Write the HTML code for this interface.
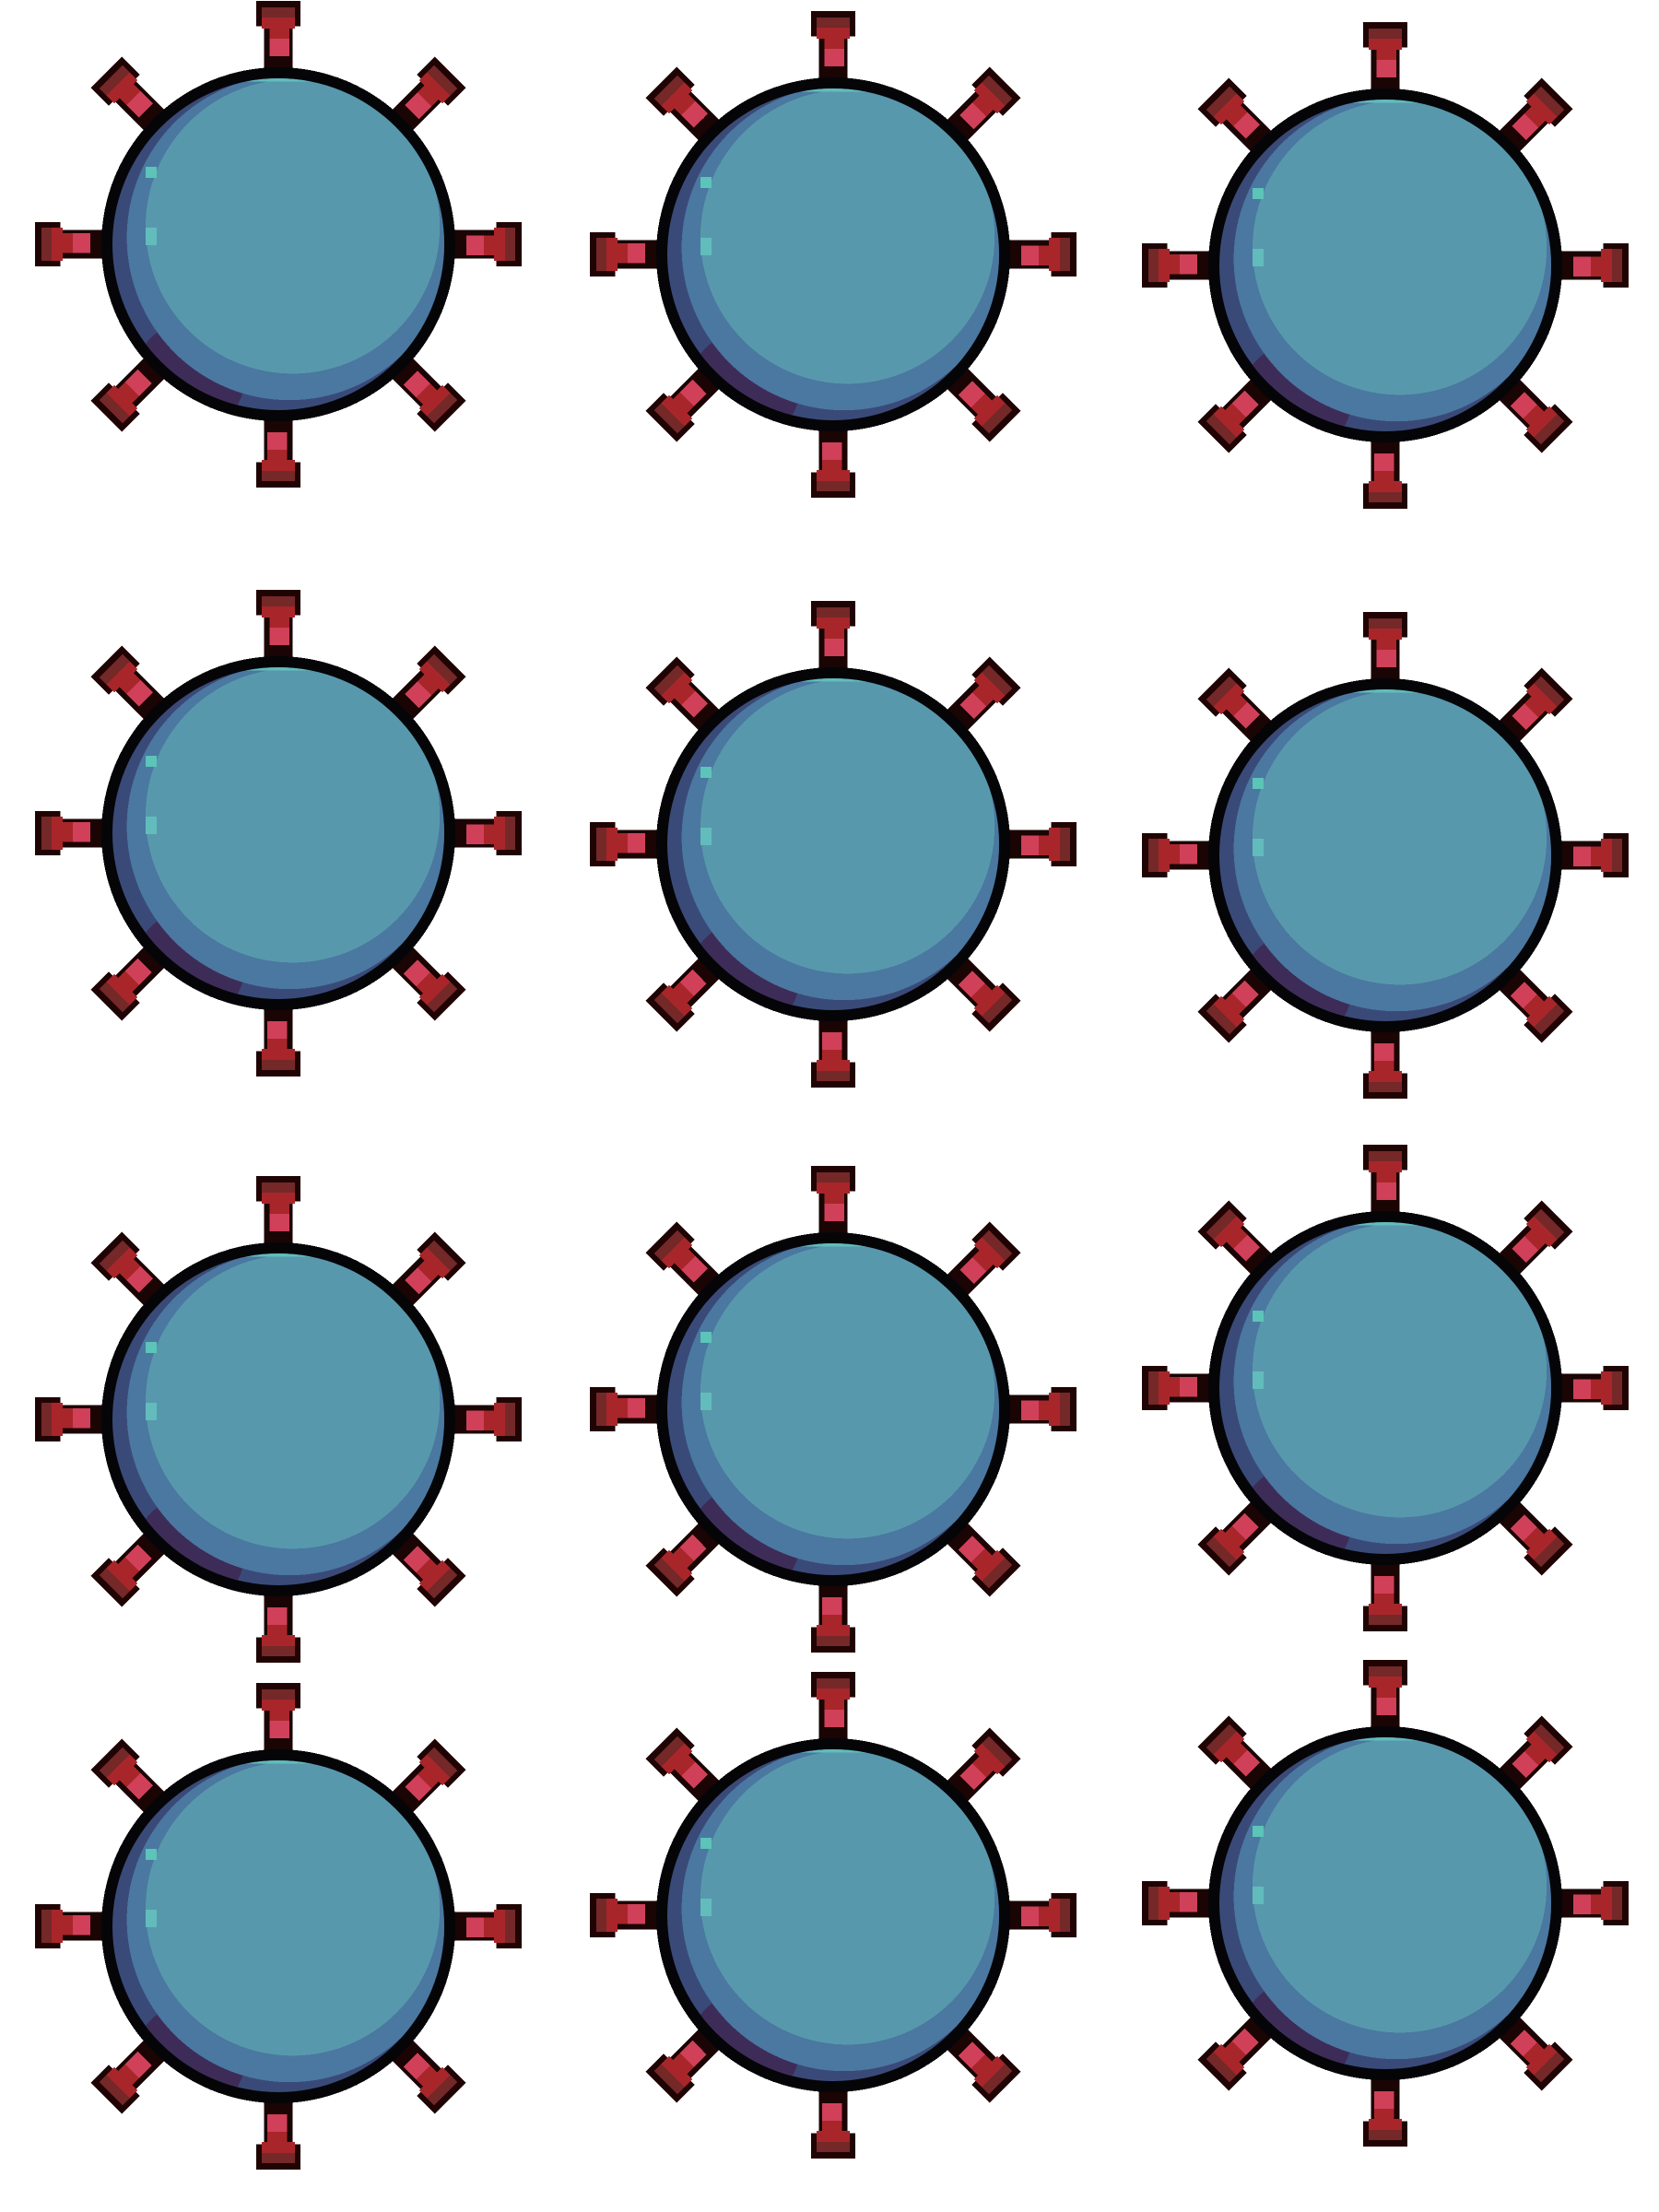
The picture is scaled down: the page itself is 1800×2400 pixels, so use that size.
<!DOCTYPE html>
<html>
<head>
<meta charset="utf-8">
<style>
  html,body{margin:0;padding:0;background:#fff;}
  svg{display:block;}
</style>
</head>
<body>
<svg width="1800" height="2400" viewBox="0 0 1800 2400" xmlns="http://www.w3.org/2000/svg" shape-rendering="crispEdges">
  <defs>
    <clipPath id="bodyclip"><circle cx="0" cy="0" r="15"/></clipPath>
    <g id="spike">
      <rect x="-1.3" y="-20.2" width="2.6" height="5.2" fill="#1a0404"/>
      <rect x="-2" y="-22" width="4" height="2.3" fill="#200404"/>
      <rect x="-1.5" y="-21.4" width="3" height="0.9" fill="#742828"/>
      <rect x="-1.5" y="-20.5" width="3" height="1" fill="#a8262a"/>
      <rect x="-0.8" y="-19.6" width="1.8" height="1.1" fill="#a8262a"/>
      <rect x="-0.8" y="-18.6" width="1.8" height="1.6" fill="#d04058"/>
    </g>
    <g id="virus">
      <use href="#spike"/>
      <use href="#spike" transform="rotate(45)"/>
      <use href="#spike" transform="rotate(90)"/>
      <use href="#spike" transform="rotate(135)"/>
      <use href="#spike" transform="rotate(180)"/>
      <use href="#spike" transform="rotate(225)"/>
      <use href="#spike" transform="rotate(270)"/>
      <use href="#spike" transform="rotate(315)"/>
      <circle cx="0" cy="0" r="16" fill="#050508"/>
      <g clip-path="url(#bodyclip)">
        <rect x="-16" y="-16" width="32" height="32" fill="#3a4a78"/>
        <circle cx="-8" cy="12" r="5" fill="#3e2c58"/>
        <circle cx="1" cy="-0.6" r="14.7" fill="#4a78a0"/>
        <circle cx="1.3" cy="-1.6" r="13.3" fill="#5898ac"/>
        <rect x="-3.5" y="-16" width="7" height="1.3" fill="#62bcbc"/>
        <rect x="-12" y="-1.5" width="1" height="1.6" fill="#62bcbc"/>
        <rect x="-12" y="-7" width="1" height="1" fill="#5cc4b8"/>
      </g>
    </g>
  </defs>
  <g transform="translate(302,265) scale(12)"><use href="#virus"/></g>
  <g transform="translate(904,276) scale(12)"><use href="#virus"/></g>
  <g transform="translate(1503,288) scale(12)"><use href="#virus"/></g>
  <g transform="translate(302,904) scale(12)"><use href="#virus"/></g>
  <g transform="translate(904,916) scale(12)"><use href="#virus"/></g>
  <g transform="translate(1503,928) scale(12)"><use href="#virus"/></g>
  <g transform="translate(302,1540) scale(12)"><use href="#virus"/></g>
  <g transform="translate(904,1529) scale(12)"><use href="#virus"/></g>
  <g transform="translate(1503,1506) scale(12)"><use href="#virus"/></g>
  <g transform="translate(302,2090) scale(12)"><use href="#virus"/></g>
  <g transform="translate(904,2078) scale(12)"><use href="#virus"/></g>
  <g transform="translate(1503,2065) scale(12)"><use href="#virus"/></g>
</svg>
</body>
</html>
